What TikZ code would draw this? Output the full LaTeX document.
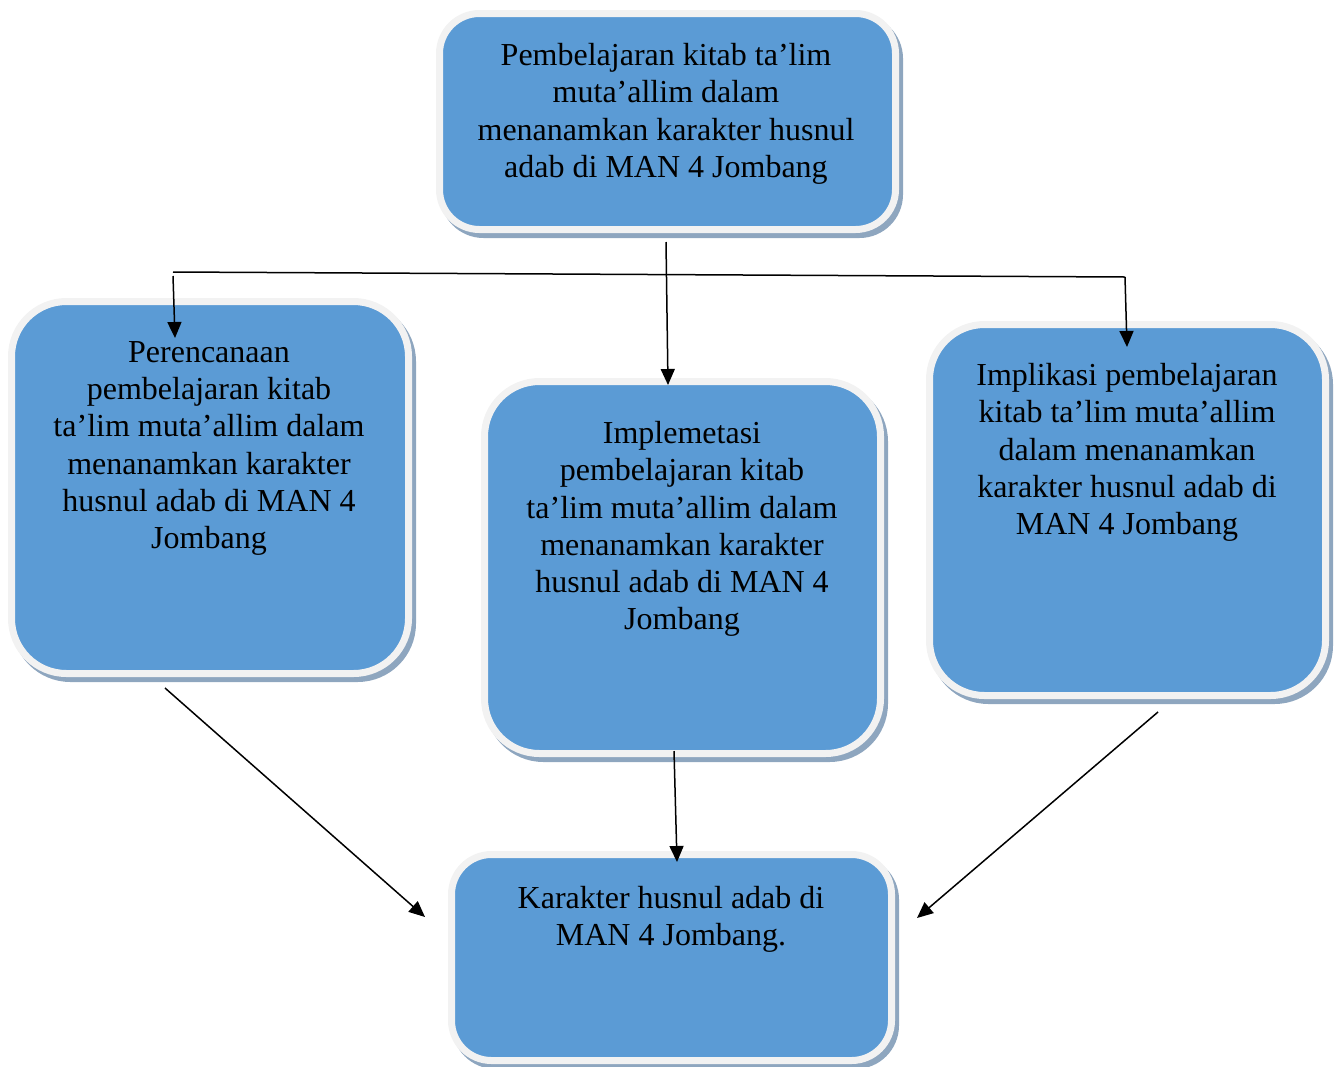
\documentclass[tikz,border=0pt]{standalone}
\usepackage{fontspec}
\setmainfont{Liberation Serif}
\usetikzlibrary{arrows.meta}
\definecolor{boxblue}{HTML}{5B9BD5}
\definecolor{boxrim}{HTML}{F2F2F2}
\definecolor{boxshade}{HTML}{8EA6BF}
\tikzset{
  pbox/.style={rectangle, rounded corners=#1, inner sep=0pt, fill=boxblue, draw=boxrim, line width=7pt,
    preaction={draw=boxshade, fill=boxshade, line width=7pt, transform canvas={shift={(4pt,-5pt)}}}},
  ptext/.style={anchor=north, inner sep=0pt, align=center, font=\fontsize{32}{37.3}\selectfont},
  conn/.style={line width=1.5pt, draw=black},
  arr/.style={conn, -{Triangle[length=16pt,width=14pt]}}
}
\begin{document}
\begin{tikzpicture}[x=1pt,y=-1pt]
\useasboundingbox (0,0) rectangle (1338,1066);
% boxes
\node[pbox=40pt, minimum width=456pt, minimum height=216pt] (top) at (667.5,121.5) {};
\node[pbox=55pt, minimum width=397pt, minimum height=372pt] (left) at (210,487.5) {};
\node[pbox=55pt, minimum width=396pt, minimum height=372pt] (mid) at (682.5,567.5) {};
\node[pbox=55pt, minimum width=396pt, minimum height=371pt] (right) at (1127.5,510) {};
\node[pbox=40pt, minimum width=440pt, minimum height=206pt] (bot) at (671.5,957.5) {};
% texts
\node[ptext] (toptext) at (666,43) {Pembelajaran kitab ta’lim\\muta’allim dalam\\menanamkan karakter husnul\\adab di MAN 4 Jombang};
\node[ptext] (lefttext) at (209,341) {Perencanaan\\pembelajaran kitab\\ta’lim muta’allim dalam\\menanamkan karakter\\husnul adab di MAN 4\\Jombang};
\node[ptext] (midtext) at (682,421) {Implemetasi\\pembelajaran kitab\\ta’lim muta’allim dalam\\menanamkan karakter\\husnul adab di MAN 4\\Jombang};
\node[ptext] (righttext) at (1127,363) {Implikasi pembelajaran\\kitab ta’lim muta’allim\\dalam menanamkan\\karakter husnul adab di\\MAN 4 Jombang};
\node[ptext] (bottext) at (671,886) {Karakter husnul adab di\\MAN 4 Jombang.};
% connector points
\coordinate (topout) at (666,242);
\coordinate (midin) at (668,385);
\coordinate (hl) at (173,272);
\coordinate (hr) at (1125,277);
\coordinate (leftin) at (175,338);
\coordinate (rightin) at (1127,347);
\coordinate (leftout) at (165,688);
\coordinate (botinl) at (425,917);
\coordinate (midout) at (674,751);
\coordinate (botin) at (677,862);
\coordinate (rightout) at (1158,712);
\coordinate (botinr) at (917,918);
% connectors
\draw[arr] (topout) -- (midin);
\draw[conn] (hl) -- (hr);
\draw[arr] (hr) -- (rightin);
\draw[arr] ([yshift=-4pt]hl) -- (leftin);
\draw[arr] (leftout) -- (botinl);
\draw[arr] (midout) -- (botin);
\draw[arr] (rightout) -- (botinr);
\end{tikzpicture}
\end{document}
